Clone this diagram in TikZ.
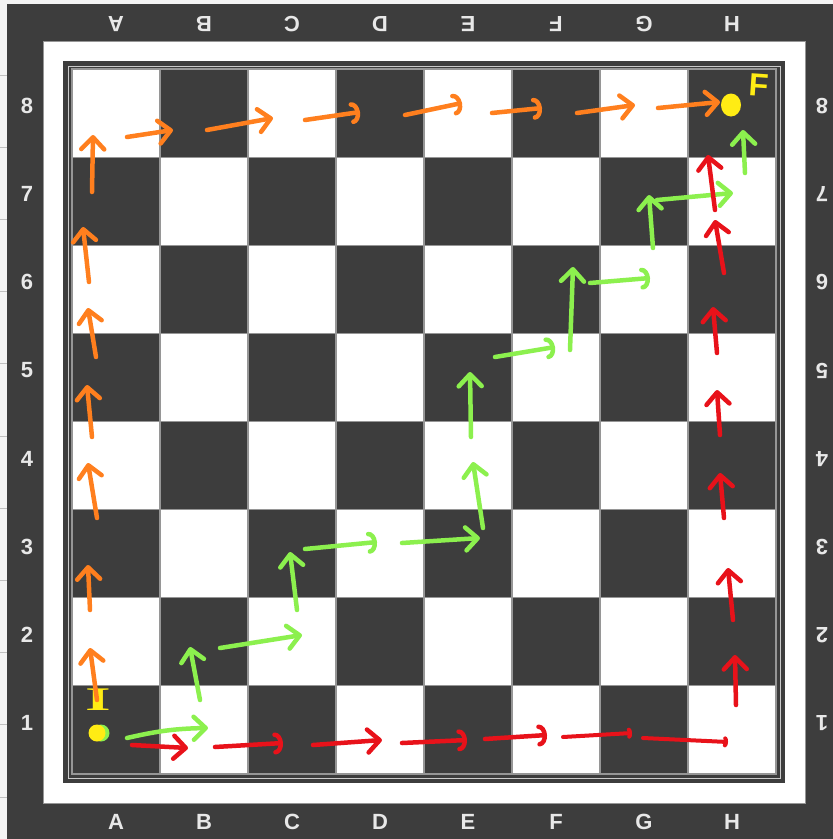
\documentclass[tikz,border=0pt]{standalone}
\usepackage{fontspec}
\setmainfont{Liberation Sans}
\newfontfamily\penserif{Liberation Serif}
\usetikzlibrary{arrows.meta}
\definecolor{boarddark}{RGB}{61,61,61}
\definecolor{boardline}{RGB}{150,150,150}
\definecolor{sheetgray}{RGB}{244,244,244}
\definecolor{labelgray}{RGB}{232,232,232}
\definecolor{penorange}{RGB}{255,127,30}
\definecolor{pengreen}{RGB}{140,240,78}
\definecolor{penred}{RGB}{232,18,26}
\definecolor{penyellow}{RGB}{255,236,20}

\begin{document}
\begin{tikzpicture}[
    x=1pt,y=-1pt,
    font=\fontsize{22}{24}\selectfont\bfseries,
    coordlabel/.style={text=labelgray,inner sep=0pt},
    flipped/.style={coordlabel,rotate=180},
    square/.style={draw=boardline,line width=1.2pt},
    pen/.style={line width=4.5pt,line cap=round,line join=round,
      -{Straight Barb[length=12pt,width=23pt,round]}},
    hook/.style={line width=4.5pt,line cap=round,line join=round,
      -{Arc Barb[length=8pt,width=22pt,round]}},
    nub/.style={line width=4pt,line cap=round,line join=round,
      -{Arc Barb[length=3pt,width=11pt,round]}},
    letter/.style={text=penyellow,inner sep=0pt}
  ]
  \useasboundingbox (0,0) rectangle (833,839);

  % sheet behind the board
  \fill[sheetgray] (0,0) rectangle (833,839);
  \foreach \i in {0,...,10}
    \draw[boardline!60,line width=0.8pt] (0,75+72.2*\i) -- (7,75+72.2*\i);

  % frame
  \fill[boarddark] (7,4) rectangle (833,839);
  \filldraw[fill=white,draw=boardline] (43,41) rectangle (805,803);
  \fill[boarddark] (63,61) rectangle (785,783);
  \draw[boardline!50,line width=0.6pt] (68,66) rectangle (780,778);

  % squares
  \foreach \c in {0,...,7}
    \foreach \r in {0,...,7} {
      \pgfmathtruncatemacro\parity{mod(\c+\r,2)}
      \ifnum\parity=0 \def\sqcol{boarddark}\else\def\sqcol{white}\fi
      \filldraw[square,fill=\sqcol] (72+88*\c,774-88.125*\r) rectangle +(88,-88.125);
    }

  % files and ranks
  \foreach \f [count=\i from 0] in {A,...,H} {
    \node[flipped] (top-\f) at (116+88*\i,24) {\f};
    \node[coordlabel] (bot-\f) at (116+88*\i,822) {\f};
  }
  \foreach \n in {1,...,8} {
    \node[coordlabel] (left-\n) at (27,723-88.125*\n+88.125) {\n};
    \node[flipped] (right-\n) at (822,723-88.125*\n+88.125) {\n};
  }

  % start and finish marks
  \node[letter,font=\fontsize{33}{33}\selectfont\penserif\bfseries] (start) at (98,700) {\scalebox{2}[1]{I}};
  \node[letter,font=\fontsize{32}{32}\selectfont\bfseries,rotate=-4] (finish) at (759,85) {F};

  % green route: staircase
  \draw[pen,pengreen] (127,738) to[bend left=6] (208,728);
  \draw[pen,pengreen] (200,700) -- (190,647);
  \draw[pen,pengreen] (220,648) -- (302,635);
  \draw[pen,pengreen] (297,610) -- (290,552);
  \draw[hook,pengreen] (305,549) -- (377,542);
  \draw[pen,pengreen] (402,543) -- (480,538);
  \draw[pen,pengreen] (483,528) -- (473,462);
  \draw[pen,pengreen] (471,437) -- (470,372);
  \draw[hook,pengreen] (495,357) -- (555,347);
  \draw[pen,pengreen] (570,350) -- (573,267);
  \draw[hook,pengreen] (590,283) -- (650,278);
  \draw[pen,pengreen] (653,248) -- (649,195);
  \draw[pen,pengreen] (657,200) -- (733,193);
  \draw[pen,pengreen] (745,173) -- (743,130);

  % orange route: up the A file, then along rank 8
  \draw[pen,penorange] (97,700) -- (90,648);
  \draw[pen,penorange] (90,610) -- (88,565);
  \draw[pen,penorange] (97,518) -- (88,463);
  \draw[pen,penorange] (92,437) -- (87,385);
  \draw[pen,penorange] (96,357) -- (88,308);
  \draw[pen,penorange] (89,282) -- (83,227);
  \draw[pen,penorange] (92,192) -- (93,135);
  \draw[pen,penorange] (127,137) -- (173,130);
  \draw[pen,penorange] (207,130) -- (273,118);
  \draw[hook,penorange] (305,120) -- (360,112);
  \draw[hook,penorange] (405,115) -- (462,103);
  \draw[hook,penorange] (492,113) -- (542,108);
  \draw[pen,penorange] (577,113) -- (635,105);
  \draw[pen,penorange] (658,108) -- (720,102);

  % red route: along rank 1, then up the H file
  \draw[pen,penred] (132,745) -- (188,748);
  \draw[hook,penred] (215,747) -- (283,743);
  \draw[pen,penred] (313,745) -- (382,740);
  \draw[hook,penred] (402,743) -- (467,740);
  \draw[hook,penred] (485,739) -- (547,735);
  \draw[nub,penred] (563,737) -- (632,733);
  \draw[nub,penred] (643,738) -- (728,742);
  \draw[pen,penred] (736,705) -- (735,655);
  \draw[pen,penred] (733,620) -- (728,568);
  \draw[pen,penred] (724,518) -- (720,473);
  \draw[pen,penred] (720,435) -- (717,390);
  \draw[pen,penred] (717,353) -- (713,307);
  \draw[pen,penred] (724,273) -- (715,220);
  \draw[pen,penred] (715,210) -- (708,155);

  % dots
  \fill[pengreen] (101,733) circle (8.5);
  \fill[penyellow] (97,733) circle (8.5);
  \fill[penyellow] (731,105) ellipse (10 and 11.5);
\end{tikzpicture}
\end{document}
